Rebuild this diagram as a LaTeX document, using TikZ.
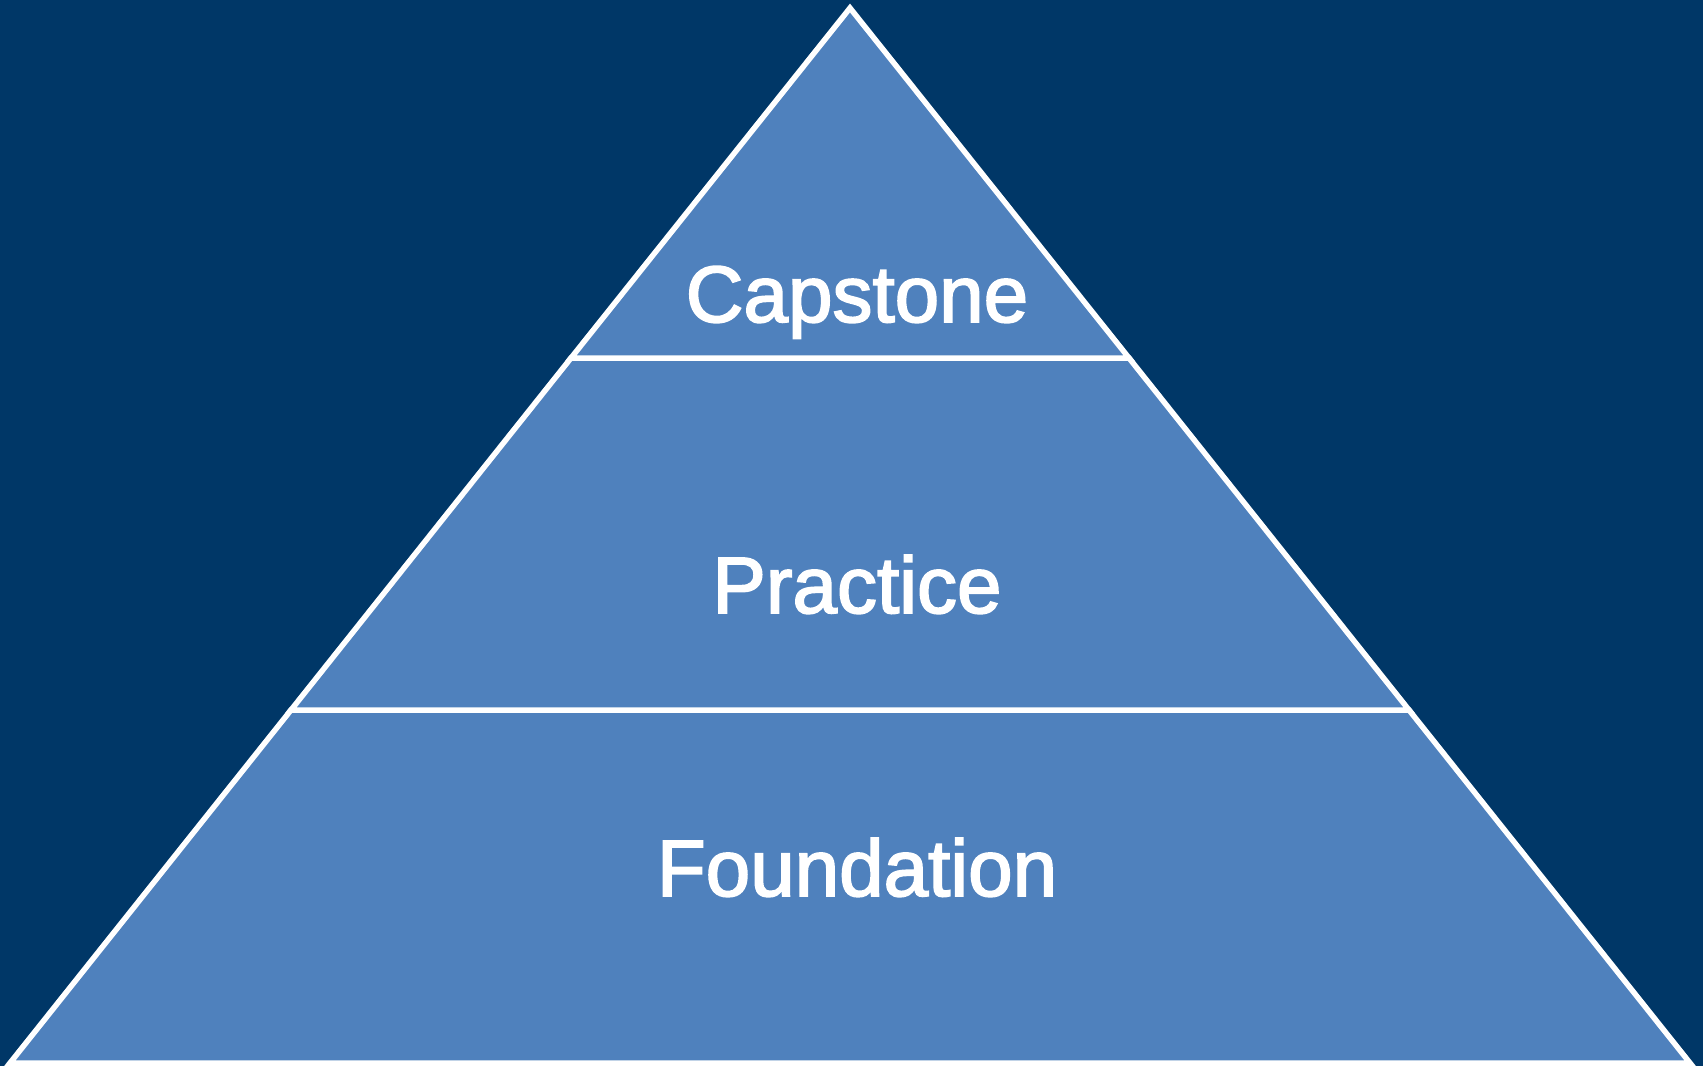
\documentclass[tikz,border=0pt]{standalone}
\usepackage{fontspec}
\setmainfont{Liberation Sans}
\newfontfamily\lblfont{Liberation Sans}[FakeBold=2.2]
\definecolor{bgnavy}{RGB}{0,55,103}
\definecolor{tierblue}{RGB}{79,129,189}
\begin{document}
\begin{tikzpicture}[x=1pt,y=-1pt,
  tier/.style={fill=tierblue,draw=white,line width=5.5pt,line join=miter},
  lbl/.style={text=white,font=\lblfont\fontsize{80}{84}\selectfont,anchor=base}]
\fill[bgnavy] (0,0) rectangle (1703,1066);
\useasboundingbox (0,0) rectangle (1703,1066);
\coordinate (apex) at (850,8);
\coordinate (l1) at (571,358);
\coordinate (r1) at (1129,358);
\coordinate (l2) at (291,710);
\coordinate (r2) at (1409,710);
\coordinate (bl) at (10,1063);
\coordinate (br) at (1690,1063);
\draw[tier] (l2) -- (r2) -- (br) -- (bl) -- cycle;
\draw[tier] (l1) -- (r1) -- (r2) -- (l2) -- cycle;
\draw[tier] (apex) -- (r1) -- (l1) -- cycle;
\node[lbl] (cap) at (857,322) {Capstone};
\node[lbl] (pra) at (857,613) {Practice};
\node[lbl] (fou) at (857,896) {Foundation};
\end{tikzpicture}
\end{document}
